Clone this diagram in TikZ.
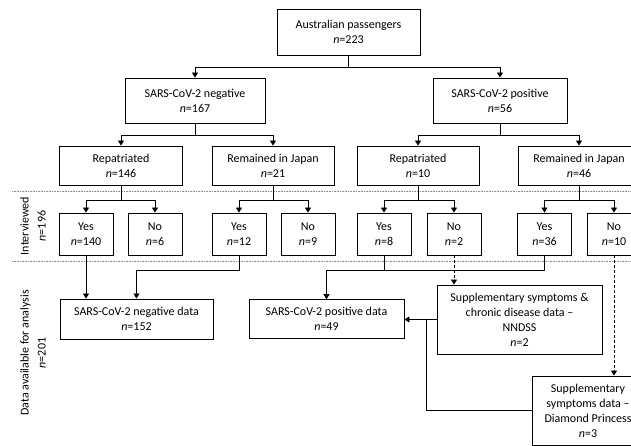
\documentclass[tikz,border=0pt]{standalone}
\usepackage{fontspec}
\setmainfont{Carlito}
\usepackage{tikz}
\usetikzlibrary{arrows.meta}

\begin{document}
\begin{tikzpicture}[x=1pt, y=-1pt,
		box_style/.style={rectangle,draw=black,line width=0.9pt,fill=white,align=center,inner sep=1pt,font=\fontsize{12}{15}\selectfont},
		side_style/.style={rotate=90,align=center,font=\fontsize{12}{17}\selectfont},
		line_style/.style={draw=black,line width=0.8pt},
		arrow_style/.style={line_style,-{Triangle[length=5pt,width=6pt]}},
		dash_style/.style={arrow_style,dash pattern=on 3pt off 2pt},
		sep_style/.style={draw=black!45,line width=1pt,dash pattern=on 0.8pt off 0.8pt}]

		\clip (0,0) rectangle (631,446);

		% separators of the interview band
		\draw[sep_style] (12,192) -- (631,192);
		\draw[sep_style] (12,261) -- (631,261);

		\node[box_style,minimum width=143,minimum height=46] (n0) at (348.5,32) {Australian passengers\\\textit{n}=223};
		\node[box_style,minimum width=140,minimum height=45] (n1) at (195,100.5) {SARS-CoV-2 negative\\\textit{n}=167};
		\node[box_style,minimum width=134,minimum height=45] (n2) at (500,100.5) {SARS-CoV-2 positive\\\textit{n}=56};

		\node[box_style,minimum width=123,minimum height=39] (n3) at (121,165.5) {Repatriated\\\textit{n}=146};
		\node[box_style,minimum width=122,minimum height=39] (n4) at (273,165.5) {Remained in Japan\\\textit{n}=21};
		\node[box_style,minimum width=122,minimum height=39] (n5) at (418,165.5) {Repatriated\\\textit{n}=10};
		\node[box_style,minimum width=122,minimum height=39] (n6) at (579,165.5) {Remained in Japan\\\textit{n}=46};

		\node[box_style,minimum width=54,minimum height=42] (n7) at (86,234) {Yes\\\textit{n}=140};
		\node[box_style,minimum width=54,minimum height=42] (n8) at (155,234) {No\\\textit{n}=6};
		\node[box_style,minimum width=54,minimum height=42] (n9) at (239,234) {Yes\\\textit{n}=12};
		\node[box_style,minimum width=54,minimum height=42] (n10) at (308,234) {No\\\textit{n}=9};
		\node[box_style,minimum width=54,minimum height=42] (n11) at (384,234) {Yes\\\textit{n}=8};
		\node[box_style,minimum width=54,minimum height=42] (n12) at (454,234) {No\\\textit{n}=2};
		\node[box_style,minimum width=54,minimum height=42] (n13) at (544.5,234) {Yes\\\textit{n}=36};
		\node[box_style,minimum width=54,minimum height=42] (n14) at (614,234) {No\\\textit{n}=10};

		\node[box_style,minimum width=153,minimum height=40] (n15) at (136.5,319) {SARS-CoV-2 negative data\\\textit{n}=152};
		\node[box_style,minimum width=155,minimum height=39] (n16) at (326.5,319) {SARS-CoV-2 positive data\\\textit{n}=49};
		\node[box_style,minimum width=165,minimum height=69] (n17) at (519.5,319.5) {Supplementary symptoms \&\\chronic disease data --\\NNDSS\\\textit{n}=2};
		\node[box_style,minimum width=112,minimum height=69] (n18) at (588,410.5) {Supplementary\\symptoms data --\\Diamond Princess\\\textit{n}=3};

		\node[side_style] (l1) at (33,226) {Interviewed\\\textit{n}=196};
		\node[side_style] (l2) at (33,353) {Data available for analysis\\\textit{n}=201};

		\coordinate (j1) at ([xshift=-10pt]n17.west);

		% tree
		\draw[arrow_style] (n0.south) -- ++(0,12) -| (n1.north);
		\draw[arrow_style] (n0.south) -- ++(0,12) -| (n2.north);
		\draw[arrow_style] (n1.south) -- ++(0,12) -| (n3.north);
		\draw[arrow_style] (n1.south) -- ++(0,12) -| (n4.north);
		\draw[arrow_style] (n2.south) -- ++(0,12) -| (n5.north);
		\draw[arrow_style] (n2.south) -- ++(0,12) -| (n6.north);
		\draw[arrow_style] (n3.south) -- ++(0,15) -| (n7.north);
		\draw[arrow_style] (n3.south) -- ++(0,15) -| (n8.north);
		\draw[arrow_style] (n4.south) -- ++(0,15) -| (n9.north);
		\draw[arrow_style] (n4.south) -- ++(0,15) -| (n10.north);
		\draw[arrow_style] (n5.south) -- ++(0,15) -| (n11.north);
		\draw[arrow_style] (n5.south) -- ++(0,15) -| (n12.north);
		\draw[arrow_style] (n6.south) -- ++(0,15) -| (n13.north);
		\draw[arrow_style] (n6.south) -- ++(0,15) -| (n14.north);

		% data available
		\draw[arrow_style] (n7.south) -- (n7.south |- n15.north);
		\draw[arrow_style] (n9.south) -- ++(0,15) -| (n15.north);
		\draw[arrow_style] (n11.south) -- ++(0,15) -| (n16.north);
		\draw[arrow_style] (n13.south) -- ++(0,15) -| (n16.north);
		\draw[dash_style] (n12.south) -- (n12.south |- n17.north);
		\draw[dash_style] (n14.south) -- (n14.south |- n18.north);
		\draw[arrow_style] (n17.west) -- (n17.west -| n16.east);
		\draw[line_style] (n18.west) -| (j1);
\end{tikzpicture}
\end{document}
